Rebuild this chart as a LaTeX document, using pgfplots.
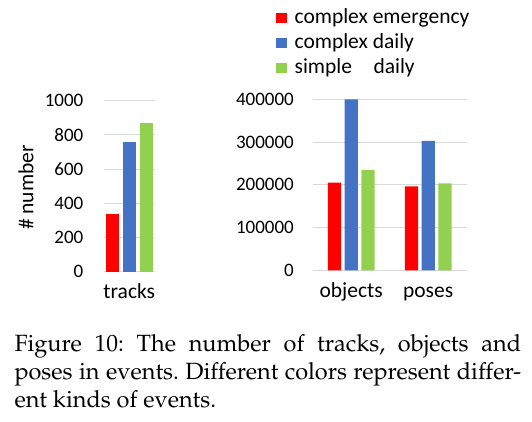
\documentclass[border=0pt]{standalone}
\usepackage[T1]{fontenc}
\usepackage{fontspec}
\setmainfont{Carlito}
\usepackage{pgfplots}
\pgfplotsset{compat=1.18}
\definecolor{cred}{HTML}{FF0000}
\definecolor{cblue}{HTML}{4472C4}
\definecolor{cgreen}{HTML}{92D050}
\definecolor{cgrid}{HTML}{D9D9D9}
\newcommand\capfont{\fontencoding{T1}\fontfamily{ppl}\fontseries{m}\fontshape{n}\fontsize{23.5}{28}\selectfont\frenchspacing}
\newcommand\legsq[1]{\fill[#1] (0pt,0pt) rectangle (11pt,10pt);}
\pgfplotsset{
  mybars/.style={
    ybar=3.5pt, bar width=13.5pt,
    scale only axis,
    ymin=0,
    axis line style={draw=none},
    major tick length=0pt,
    ymajorgrids, grid style={cgrid, line width=1pt},
    xtick=data,
    /pgf/number format/fixed,
    /pgf/number format/precision=0,
    /pgf/number format/assume math mode=true,
    /pgf/number format/1000 sep={},
    scaled y ticks=false,
    yticklabel style={font=\fontsize{19}{22}\selectfont, anchor=east, inner sep=0pt},
    xticklabel style={font=\fontsize{21.5}{25}\selectfont, anchor=base, inner sep=0pt},
  }
}
\begin{document}
\begin{tikzpicture}[x=1pt,y=1pt]
\useasboundingbox (0,0) rectangle (532,422);
% left axis
\begin{axis}[mybars,
  at={(103.5pt,150.3pt)}, anchor=south west,
  width=51.5pt, height=171pt,
  xmin=-0.5, xmax=0.5, ymax=1000,
  ytick={0,200,400,600,800,1000},
  xticklabels={tracks},
  yticklabel style={xshift=-20pt},
  xticklabel style={yshift=-26.5pt},
]
\addplot[fill=cred, draw=none] coordinates {(0,337)};
\addplot[fill=cblue, draw=none] coordinates {(0,758)};
\addplot[fill=cgreen, draw=none] coordinates {(0,870)};
\end{axis}
% right axis
\begin{axis}[mybars,
  at={(312.7pt,151.7pt)}, anchor=south west,
  width=154pt, height=171pt,
  xmin=-0.5, xmax=1.5, ymax=400000,
  ytick={0,100000,200000,300000,400000},
  xticklabels={objects,poses},
  bar width=13.3pt,
  yticklabel style={xshift=-18.7pt},
  xticklabel style={yshift=-27.3pt},
  legend style={at={(axis description cs:-0.2364,1.538)}, anchor=north west,
    draw=none, fill=none, inner sep=0pt, outer sep=0pt,
    font=\fontsize{21.5}{25}\selectfont,
    cells={anchor=base west},
    nodes={inner sep=0pt, text height=16pt, text depth=9pt},
    /tikz/column sep=7.3pt, /tikz/row sep=0pt},
]
\addplot[fill=cred, draw=none, legend image code/.code={\legsq{cred}}] coordinates {(0,205000) (1,196500)};
\addplot[fill=cblue, draw=none, legend image code/.code={\legsq{cblue}}] coordinates {(0,400000) (1,302500)};
\addplot[fill=cgreen, draw=none, legend image code/.code={\legsq{cgreen}}] coordinates {(0,235000) (1,203500)};
\legend{complex emergency, complex daily, simple\quad daily}
\end{axis}
% y label
\node[rotate=90, anchor=base, font=\fontsize{21.5}{25}\selectfont] at (33.3,234.5) {\# number};
% caption
\node[anchor=base west, inner sep=0pt] at (14.3,70.3) {\capfont\makebox[506.7pt][s]{Figure 10: The number of tracks, objects and}};
\node[anchor=base west, inner sep=0pt] at (14.3,42) {\capfont\makebox[506.7pt][s]{poses in events. Different colors represent differ-}};
\node[anchor=base west, inner sep=0pt] at (14.3,14.7) {\capfont ent kinds of events.};
\end{tikzpicture}
\end{document}
